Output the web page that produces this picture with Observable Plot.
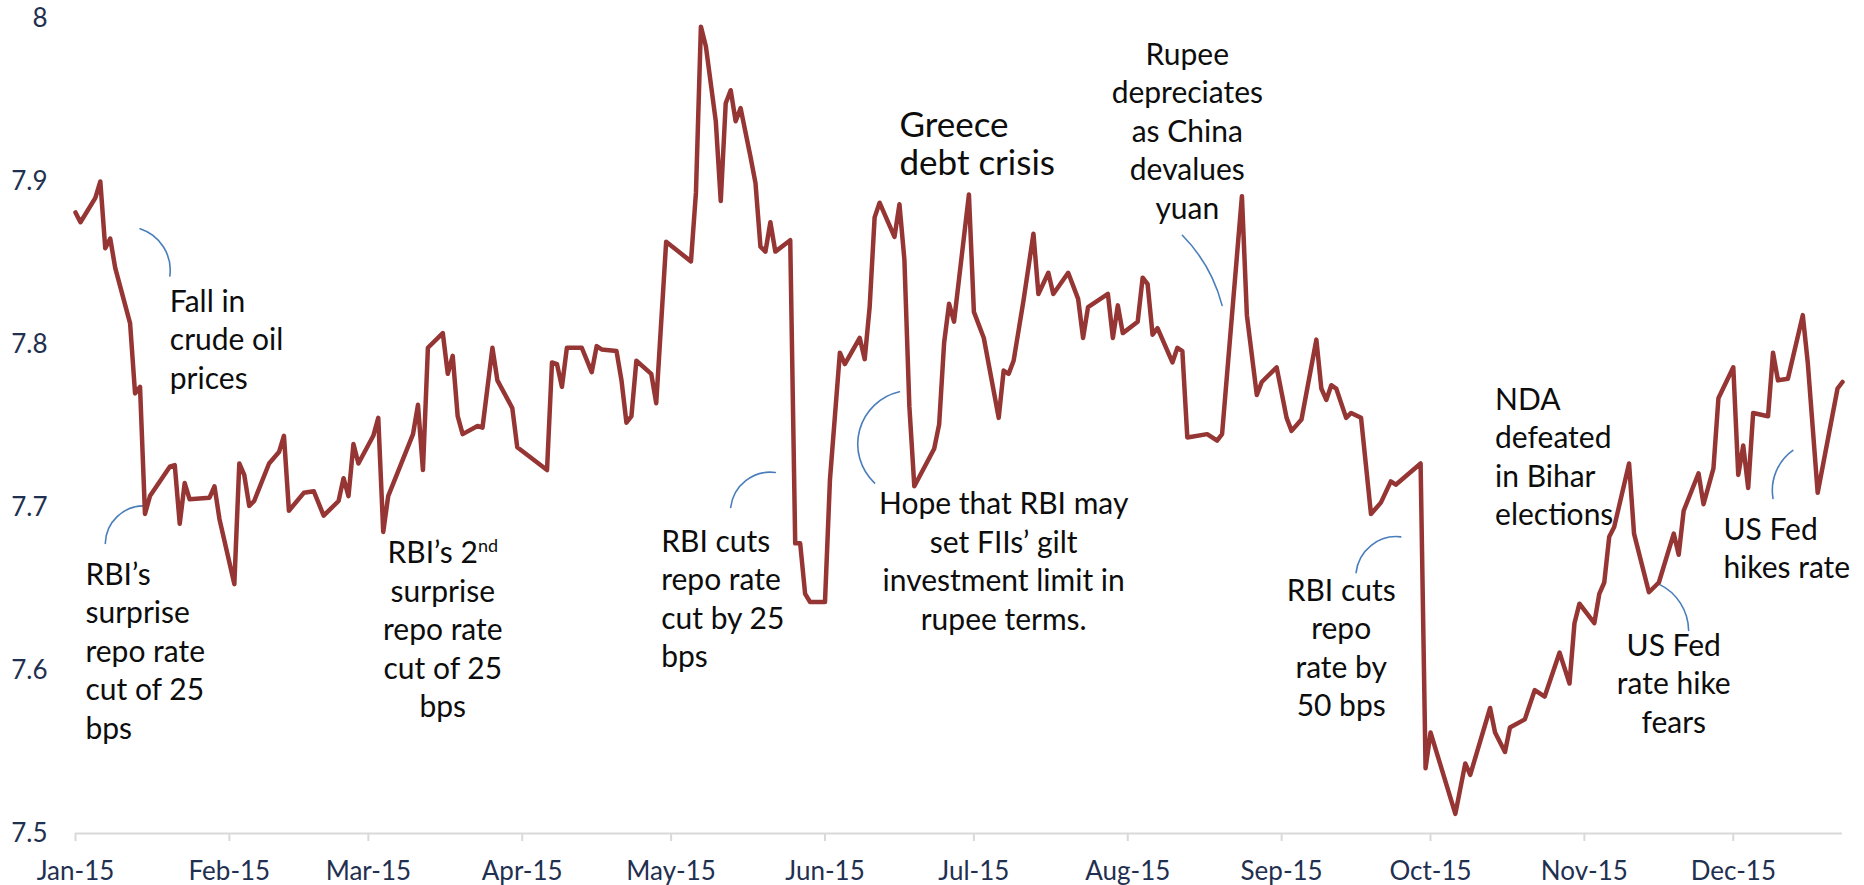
<!DOCTYPE html>
<html>
<head>
<meta charset="utf-8">
<script src="https://cdn.jsdelivr.net/npm/d3@7"></script>
<script src="https://cdn.jsdelivr.net/npm/@observablehq/plot@0.6"></script>
<style>
  html, body { margin: 0; padding: 0; background: #fff; }
  #chart { width: 1864px; height: 885px; }
</style>
</head>
<body>
<div id="chart"></div>
<script>
// ---- Data: USD/INR-style series (daily readings, 2015) ----
const dates = [
"2015-01-01","2015-01-02","2015-01-05","2015-01-06","2015-01-07","2015-01-08","2015-01-09","2015-01-12","2015-01-13","2015-01-14","2015-01-15","2015-01-16","2015-01-20","2015-01-21","2015-01-22","2015-01-23","2015-01-24","2015-01-28","2015-01-29","2015-01-30",
"2015-02-02","2015-02-03","2015-02-04","2015-02-05","2015-02-06","2015-02-09","2015-02-11","2015-02-12","2015-02-13","2015-02-16","2015-02-18","2015-02-20","2015-02-23","2015-02-24","2015-02-25","2015-02-26","2015-02-27",
"2015-03-02","2015-03-03","2015-03-04","2015-03-05","2015-03-10","2015-03-11","2015-03-12","2015-03-13","2015-03-16","2015-03-17","2015-03-18","2015-03-19","2015-03-20","2015-03-23","2015-03-24","2015-03-26","2015-03-27","2015-03-30","2015-03-31",
"2015-04-06","2015-04-07","2015-04-08","2015-04-09","2015-04-10","2015-04-13","2015-04-15","2015-04-16","2015-04-17","2015-04-20","2015-04-21","2015-04-22","2015-04-23","2015-04-24","2015-04-27","2015-04-28","2015-04-30",
"2015-05-05","2015-05-06","2015-05-07","2015-05-08","2015-05-10","2015-05-11","2015-05-12","2015-05-13","2015-05-14","2015-05-15","2015-05-17","2015-05-18","2015-05-19","2015-05-20","2015-05-21","2015-05-22","2015-05-25","2015-05-26","2015-05-27","2015-05-28","2015-05-29",
"2015-06-01","2015-06-02","2015-06-04","2015-06-05","2015-06-08","2015-06-09","2015-06-10","2015-06-11","2015-06-12","2015-06-15","2015-06-16","2015-06-17","2015-06-18","2015-06-19","2015-06-23","2015-06-24","2015-06-25","2015-06-26","2015-06-27","2015-06-30",
"2015-07-01","2015-07-03","2015-07-06","2015-07-07","2015-07-08","2015-07-09","2015-07-11","2015-07-13","2015-07-14","2015-07-16","2015-07-17","2015-07-20","2015-07-22","2015-07-23","2015-07-24","2015-07-28","2015-07-29","2015-07-30","2015-07-31",
"2015-08-03","2015-08-04","2015-08-05","2015-08-06","2015-08-07","2015-08-10","2015-08-11","2015-08-12","2015-08-13","2015-08-17","2015-08-19","2015-08-20","2015-08-24","2015-08-25","2015-08-27","2015-08-28","2015-08-31",
"2015-09-02","2015-09-03","2015-09-05","2015-09-08","2015-09-09","2015-09-10","2015-09-11","2015-09-12","2015-09-14","2015-09-15","2015-09-17","2015-09-19","2015-09-21","2015-09-23","2015-09-24","2015-09-29","2015-09-30",
"2015-10-01","2015-10-06","2015-10-08","2015-10-09","2015-10-13","2015-10-14","2015-10-16","2015-10-17","2015-10-20","2015-10-22","2015-10-24","2015-10-27","2015-10-29","2015-10-30","2015-10-31",
"2015-11-03","2015-11-04","2015-11-05","2015-11-06","2015-11-07","2015-11-10","2015-11-11","2015-11-14","2015-11-16","2015-11-19","2015-11-20","2015-11-21","2015-11-24","2015-11-25","2015-11-27","2015-11-28",
"2015-12-01","2015-12-02","2015-12-03","2015-12-04","2015-12-05","2015-12-08","2015-12-09","2015-12-10","2015-12-12","2015-12-15","2015-12-16","2015-12-18","2015-12-22","2015-12-23"
];
const values = [
7.881,7.875,7.890,7.900,7.859,7.865,7.847,7.813,7.770,7.774,7.696,7.707,7.725,7.726,7.690,7.715,7.705,7.706,7.713,7.693,
7.653,7.727,7.720,7.701,7.704,7.727,7.734,7.744,7.698,7.709,7.710,7.695,7.704,7.718,7.707,7.739,7.727,
7.744,7.755,7.685,7.707,7.745,7.763,7.723,7.798,7.807,7.782,7.793,7.756,7.745,7.750,7.749,7.798,7.778,7.761,7.737,
7.723,7.789,7.788,7.774,7.798,7.798,7.783,7.799,7.797,7.796,7.778,7.752,7.756,7.790,7.782,7.764,7.863,
7.851,7.893,7.995,7.983,7.937,7.888,7.948,7.956,7.937,7.945,7.915,7.899,7.860,7.857,7.875,7.857,7.864,7.678,7.678,7.647,7.642,
7.642,7.717,7.795,7.788,7.804,7.791,7.823,7.878,7.887,7.866,7.886,7.852,7.762,7.713,7.736,7.751,7.801,7.825,7.814,7.892,
7.820,7.804,7.755,7.784,7.782,7.790,7.827,7.868,7.831,7.844,7.831,7.844,7.828,7.804,7.823,7.831,7.804,7.824,7.807,
7.814,7.841,7.837,7.806,7.810,7.789,7.798,7.796,7.743,7.745,7.741,7.745,7.891,7.818,7.769,7.777,7.786,
7.755,7.747,7.754,7.803,7.773,7.766,7.775,7.773,7.755,7.758,7.755,7.696,7.703,7.716,7.714,7.727,7.540,
7.562,7.512,7.543,7.536,7.577,7.562,7.550,7.565,7.570,7.588,7.584,7.611,7.592,7.629,7.641,
7.629,7.647,7.654,7.682,7.688,7.727,7.684,7.648,7.654,7.684,7.671,7.698,7.721,7.702,7.724,7.767,
7.786,7.720,7.738,7.712,7.758,7.756,7.795,7.778,7.779,7.818,7.789,7.709,7.773,7.777
];

// Axis ticks
const yTicks = [7.5, 7.6, 7.7, 7.8, 7.9, 8];
const xTickDates = ["2015-01-01","2015-02-01","2015-03-01","2015-04-01","2015-05-01","2015-06-01","2015-07-01","2015-08-01","2015-09-01","2015-10-01","2015-11-01","2015-12-01"];
const xDomain = ["2015-01-01", "2015-12-23"];

// Annotations (text, anchored in data coordinates)
const noteTexts = [
  "Fall in\ncrude oil\nprices",
  "RBI’s\nsurprise\nrepo rate\ncut of 25\nbps",
  "RBI’s 2nd\nsurprise\nrepo rate\ncut of 25\nbps",
  "RBI cuts\nrepo rate\ncut by 25\nbps",
  "Hope that RBI may\nset FIIs’ gilt\ninvestment limit in\nrupee terms.",
  "Greece\ndebt crisis",
  "Rupee\ndepreciates\nas China\ndevalues\nyuan",
  "NDA\ndefeated\nin Bihar\nelections",
  "RBI cuts\nrepo\nrate by\n50 bps",
  "US Fed\nrate hike\nfears",
  "US Fed\nhikes rate"
];
const noteDates = ["2015-01-20","2015-01-03","2015-03-16","2015-04-29","2015-07-07","2015-06-16","2015-08-13","2015-10-14","2015-09-13","2015-11-19","2015-11-29"];
const noteValues = [7.804, 7.613, 7.626, 7.645, 7.668, 7.923, 7.932, 7.732, 7.615, 7.593, 7.676];

// Connector arcs (from -> to, data coordinates)
const connFromDates  = ["2015-01-14","2015-01-07","2015-05-13","2015-06-16","2015-08-12","2015-09-16","2015-11-22","2015-12-09"];
const connFromValues = [7.871, 7.678, 7.700, 7.771, 7.867, 7.660, 7.6245, 7.7055];
const connToDates    = ["2015-01-20","2015-01-15","2015-05-22","2015-06-11","2015-08-20","2015-09-25","2015-11-16","2015-12-13"];
const connToValues   = [7.842, 7.701, 7.7215, 7.715, 7.824, 7.682, 7.653, 7.735];

// ---- Build ----
const parse = d3.utcParse("%Y-%m-%d");
const series = dates.map((d, i) => ({date: parse(d), value: values[i]}));
const notes = noteTexts.map((t, i) => ({text: t, date: parse(noteDates[i]), value: noteValues[i]}));
const conns = connFromDates.map((d, i) => ({
  x1: parse(d), y1: connFromValues[i], x2: parse(connToDates[i]), y2: connToValues[i]
}));

// styles per annotation (code-side)
const noteAnchor = ["start","start","middle","start","middle","start","middle","start","middle","middle","start"];
const connBend = [40, 45, 45, -62, 15, 45, -32, 32];

const FONT = "Lato, 'Open Sans', sans-serif";
const textColor = "#0d0d0d";
const axisColor = "#1f3050";
const NOTE_SIZE = 30;

const noteMarks = [];
notes.forEach((n, i) => {
  const big = i === 5;
  noteMarks.push(Plot.text([n], {
    x: "date", y: "value", text: "text",
    textAnchor: noteAnchor[i],
    lineAnchor: "middle",
    fontSize: big ? 35 : NOTE_SIZE,
    lineHeight: big ? 38 / 35 : 38.5 / NOTE_SIZE,
    fill: textColor
  }));
});

const connMarks = conns.map((c, i) => Plot.arrow([c], {
  x1: "x1", y1: "y1", x2: "x2", y2: "y2",
  bend: connBend[i], headLength: 0,
  stroke: "#4a7ebb", strokeWidth: 1.6
}));

const chart = Plot.plot({
  width: 1864,
  height: 885,
  marginLeft: 75,
  marginRight: 22,
  marginTop: 18,
  marginBottom: 52,
  style: {fontFamily: FONT, background: "#fff", overflow: "visible"},
  x: {type: "utc", domain: xDomain.map(parse)},
  y: {domain: [7.5, 8]},
  marks: [
    Plot.ruleY([7.5], {stroke: "#d9d9d9", strokeWidth: 2}),
    Plot.axisX({
      ticks: xTickDates.map(parse),
      tickFormat: d3.utcFormat("%b-%y"),
      tickSize: 8, tickPadding: 20,
      stroke: "#d9d9d9", strokeWidth: 2,
      fill: axisColor, fontSize: 26, label: null
    }),
    Plot.axisY({
      ticks: yTicks,
      tickFormat: d => String(+d.toFixed(1)),
      tickSize: 0, tickPadding: 28,
      fill: axisColor, fontSize: 26, label: null
    }),
    ...connMarks,
    ...noteMarks,
    Plot.lineY(series, {
      x: "date", y: "value",
      stroke: "#963634", strokeWidth: 4.5,
      strokeLinejoin: "round", strokeLinecap: "round"
    })
  ]
});

// superscript "nd"
chart.querySelectorAll("tspan, text").forEach(t => {
  if (t.childElementCount === 0 && t.textContent === "RBI’s 2nd") {
    t.textContent = "RBI’s 2";
    const s = document.createElementNS("http://www.w3.org/2000/svg", "tspan");
    s.setAttribute("baseline-shift", "super");
    s.setAttribute("font-size", "0.6em");
    s.textContent = "nd";
    t.appendChild(s);
  }
});

document.getElementById("chart").appendChild(chart);
</script>
</body>
</html>
